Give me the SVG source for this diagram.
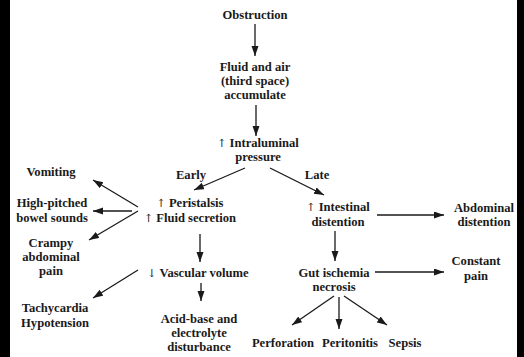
<svg xmlns="http://www.w3.org/2000/svg" width="524" height="357" viewBox="0 0 524 357">
<style>
text{font-family:"Liberation Serif","Times New Roman",serif;font-weight:bold;font-size:12.6px;fill:#1a1a1a;text-anchor:middle}
.ar{font-family:"DejaVu Serif","DejaVu Sans",serif;font-weight:normal;font-size:11px}
.c{stroke:#1a1a1a;stroke-width:1.3;fill:none;marker-end:url(#ah)}
</style>
<defs>
<marker id="ah" markerUnits="userSpaceOnUse" markerWidth="11" markerHeight="8" refX="10" refY="3.5" orient="auto">
<path d="M0,0 L10,3.5 L0,7 Z" fill="#1a1a1a"/>
</marker>
</defs>
<rect x="0" y="0" width="524" height="357" fill="#fff"/>
<rect x="0" y="0" width="10" height="357" fill="#000"/>
<rect x="517" y="0" width="7" height="357" fill="#000"/>
<g id="connectors">
<line class="c" x1="255" y1="24" x2="255" y2="56"/>
<line class="c" x1="256" y1="105" x2="256" y2="136"/>
<line class="c" x1="245" y1="168" x2="194" y2="190"/>
<line class="c" x1="270" y1="168" x2="324" y2="195"/>
<line class="c" x1="138" y1="207" x2="93" y2="180"/>
<line class="c" x1="132" y1="211" x2="93" y2="211"/>
<line class="c" x1="138" y1="211" x2="89" y2="240"/>
<line class="c" x1="200" y1="234" x2="200" y2="262"/>
<line class="c" x1="138" y1="270" x2="93" y2="298"/>
<line class="c" x1="201" y1="283" x2="201" y2="301"/>
<line class="c" x1="377" y1="215" x2="444" y2="215"/>
<line class="c" x1="335" y1="231" x2="335" y2="261"/>
<line class="c" x1="375" y1="272" x2="444" y2="272"/>
<line class="c" x1="334" y1="296" x2="292" y2="325"/>
<line class="c" x1="339" y1="297" x2="339" y2="329"/>
<line class="c" x1="344" y1="296" x2="387" y2="325"/>
</g>
<g id="obstruction"><text x="255" y="19">Obstruction</text></g>
<g id="fluid"><text x="255" y="71">Fluid and air</text><text x="255" y="85">(third space)</text><text x="255" y="99">accumulate</text></g>
<g id="pressure"><text x="258" y="147"><tspan class="ar">↑</tspan> Intraluminal</text><text x="258" y="161">pressure</text></g>
<g id="early"><text x="191" y="179">Early</text></g>
<g id="late"><text x="317" y="179">Late</text></g>
<g id="peristalsis"><text x="190" y="207"><tspan class="ar">↑</tspan> Peristalsis</text><text x="190" y="222"><tspan class="ar">↑</tspan> Fluid secretion</text></g>
<g id="intestinal"><text x="338" y="211"><tspan class="ar">↑</tspan> Intestinal</text><text x="338" y="226">distention</text></g>
<g id="abdominal"><text x="484" y="212">Abdominal</text><text x="484" y="226">distention</text></g>
<g id="vomiting"><text x="51" y="176">Vomiting</text></g>
<g id="highpitched"><text x="52" y="207">High-pitched</text><text x="52" y="222">bowel sounds</text></g>
<g id="crampy"><text x="51" y="247">Crampy</text><text x="51" y="261">abdominal</text><text x="51" y="275">pain</text></g>
<g id="vascular"><text x="198" y="277"><tspan class="ar">↓</tspan> Vascular volume</text></g>
<g id="tachycardia"><text x="55" y="312">Tachycardia</text><text x="55" y="327">Hypotension</text></g>
<g id="acidbase"><text x="199" y="323">Acid-base and</text><text x="199" y="337">electrolyte</text><text x="199" y="351">disturbance</text></g>
<g id="gut"><text x="334" y="277">Gut ischemia</text><text x="334" y="291">necrosis</text></g>
<g id="constant"><text x="476" y="265">Constant</text><text x="476" y="280">pain</text></g>
<g id="perforation"><text x="283" y="347">Perforation</text></g>
<g id="peritonitis"><text x="350" y="347">Peritonitis</text></g>
<g id="sepsis"><text x="405" y="347">Sepsis</text></g>
</svg>
